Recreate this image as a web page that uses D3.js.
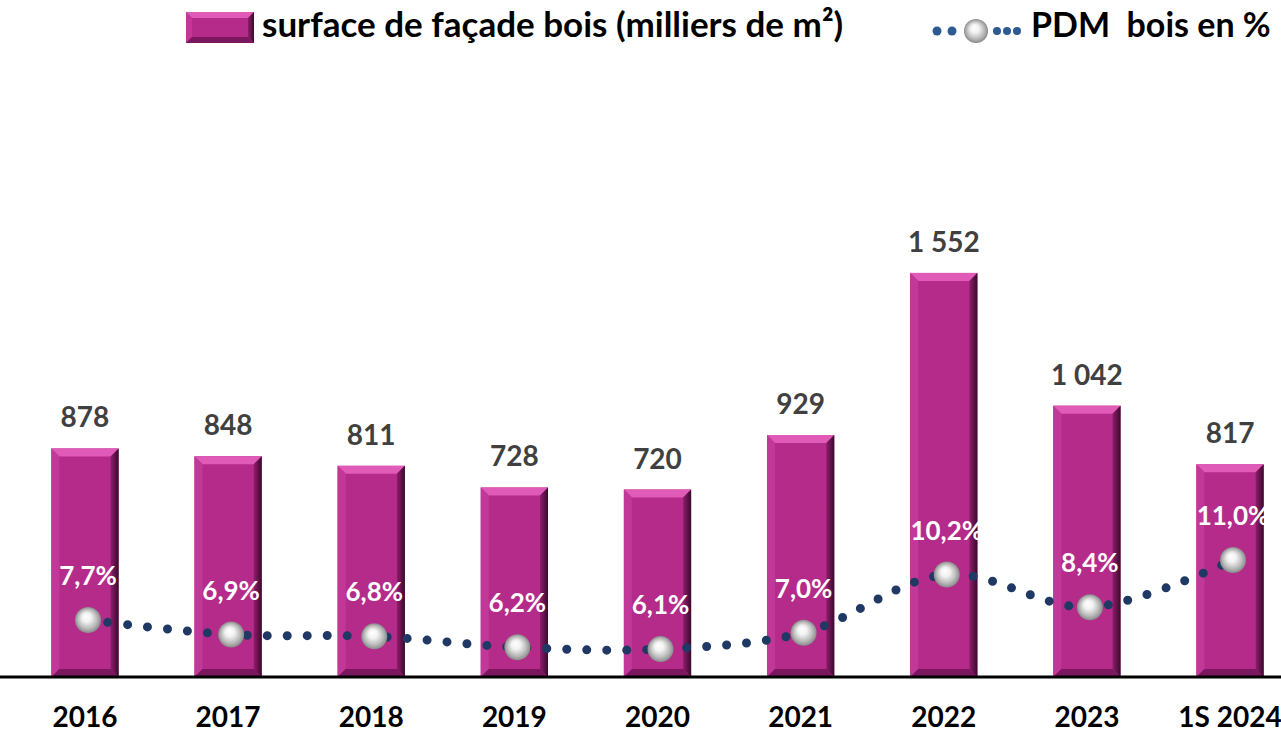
<!DOCTYPE html>
<html>
<head>
<meta charset="utf-8">
<script src="https://cdn.jsdelivr.net/npm/d3@7"></script>
<style>
  body { margin: 0; background: #fff; }
  svg text { font-family: Lato, "Open Sans", sans-serif; font-weight: bold; }
</style>
</head>
<body>
<div id="chart"></div>
<script>
// data
var years = ["2016", "2017", "2018", "2019", "2020", "2021", "2022", "2023", "1S 2024"];
var surface = [878, 848, 811, 728, 720, 929, 1552, 1042, 817];
var pdm = [7.7, 6.9, 6.8, 6.2, 6.1, 7.0, 10.2, 8.4, 11.0];
var legend_labels = ["surface de façade bois (milliers de m²)", "PDM  bois en %"];

var width = 1281, height = 732, base_y = 677;

var fr = d3.formatLocale({decimal: ",", thousands: " ", grouping: [3], currency: ["", " €"]});
var fmt_int = fr.format(",d"),
	fmt_pct = function(v) { return fr.format(".1f")(v) + "%"; };

var svg = d3.select("#chart").append("svg")
		.attr("width", width)
		.attr("height", height);

var defs = svg.append("defs");

var sphere = defs.append("radialGradient")
		.attr("id", "sphere")
		.attr("cx", "50%").attr("cy", "50%").attr("r", "50%")
		.attr("fx", "42%").attr("fy", "35%");
sphere.append("stop").attr("offset", "0%").attr("stop-color", "#ffffff");
sphere.append("stop").attr("offset", "35%").attr("stop-color", "#f2f2f2");
sphere.append("stop").attr("offset", "75%").attr("stop-color", "#b8b8b8");
sphere.append("stop").attr("offset", "100%").attr("stop-color", "#8a8a8a");

var right_grad = defs.append("linearGradient")
		.attr("id", "bevel-right")
		.attr("x1", "0").attr("x2", "1").attr("y1", "0").attr("y2", "0");
right_grad.append("stop").attr("offset", "0%").attr("stop-color", "#8e1d6c");
right_grad.append("stop").attr("offset", "100%").attr("stop-color", "#3a0a2c");

// scales
var xScale = d3.scaleBand()
		.domain(years)
		.range([13.4, 1301.6])
		.paddingInner(0.53)
		.paddingOuter(0.265);

var xLine = d3.scalePoint()
		.domain(years)
		.range([88, 1233]);

var yScale = d3.scaleLinear()
		.domain([0, 2600])
		.range([base_y, 0]);

var y2Scale = d3.scaleLinear()
		.domain([0, 11])
		.range([760, 560]);

// beveled bar, like the excel "cool slant" shape
function bevel(g, x, y, w, h, b) {
	b = Math.min(b, h / 2);
	g.append("rect").attr("x", x).attr("y", y).attr("width", w).attr("height", h).attr("fill", "#b52b8a");
	g.append("polygon").attr("fill", "#e05ab8")
		.attr("points", [[x, y], [x + w, y], [x + w - b, y + b], [x + b, y + b]].join(" "));
	g.append("polygon").attr("fill", "#c23898")
		.attr("points", [[x, y], [x + b, y + b], [x + b, y + h - b], [x, y + h]].join(" "));
	g.append("polygon").attr("fill", "url(#bevel-right)")
		.attr("points", [[x + w, y], [x + w, y + h], [x + w - b, y + h - b], [x + w - b, y + b]].join(" "));
	g.append("polygon").attr("fill", "#7a175e")
		.attr("points", [[x, y + h], [x + b, y + h - b], [x + w - b, y + h - b], [x + w, y + h]].join(" "));
}

var bars = svg.append("g").attr("class", "bars");
years.forEach(function(yr, i) {
	var g = bars.append("g");
	bevel(g, xScale(yr), yScale(surface[i]), xScale.bandwidth(), base_y - yScale(surface[i]), 8);
});

// value labels
svg.append("g").selectAll("text")
		.data(years)
	.enter().append("text")
		.attr("x", function(d) { return xScale(d) + xScale.bandwidth() / 2; })
		.attr("y", function(d, i) { return yScale(surface[i]) - 21; })
		.attr("text-anchor", "middle")
		.style("font-size", "28px")
		.style("fill", "#404040")
		.text(function(d, i) { return fmt_int(surface[i]); });

// x axis
var xAxis = d3.axisBottom(xScale).tickSize(0).tickPadding(30);
var axis_g = svg.append("g")
		.attr("transform", "translate(0," + base_y + ")")
		.call(xAxis);
axis_g.select(".domain").remove();
axis_g.selectAll("text")
		.style("font-size", "28px")
		.style("font-family", "Lato, sans-serif")
		.style("font-weight", "bold")
		.style("fill", "#000");

svg.append("line")
		.attr("x1", 0)
		.attr("x2", width)
		.attr("y1", base_y)
		.attr("y2", base_y)
		.style("stroke", "#000")
		.style("stroke-width", 3);

// pdm line
var line = d3.line()
		.x(function(d, i) { return xLine(years[i]); })
		.y(function(d) { return y2Scale(d); })
		.curve(d3.curveCatmullRom.alpha(0.5));

svg.append("path")
		.datum(pdm)
		.attr("d", line)
		.style("fill", "none")
		.style("stroke", "#1f3864")
		.style("stroke-width", 9)
		.style("stroke-linecap", "round")
		.style("stroke-dasharray", "0 20");

svg.append("g").selectAll("circle")
		.data(pdm)
	.enter().append("circle")
		.attr("cx", function(d, i) { return xLine(years[i]); })
		.attr("cy", function(d) { return y2Scale(d); })
		.attr("r", 13)
		.style("fill", "url(#sphere)");

svg.append("g").selectAll("text")
		.data(pdm)
	.enter().append("text")
		.attr("x", function(d, i) { return xLine(years[i]); })
		.attr("y", function(d) { return y2Scale(d) - 35; })
		.attr("text-anchor", "middle")
		.style("font-size", "26px")
		.style("fill", "#fff")
		.text(function(d) { return fmt_pct(d); });

// legend
var legend = svg.append("g").attr("class", "legend");
bevel(legend.append("g"), 186, 12, 68, 31, 6);
legend.append("text")
		.attr("x", 262)
		.attr("y", 37)
		.style("font-size", "35px")
		.style("fill", "#000")
		.text(legend_labels[0]);

// legend sample for the dotted line: a few dots round a sphere
var legend_dots = [937, 952, 997, 1007, 1017];
legend.selectAll("circle.dot")
		.data(legend_dots)
	.enter().append("circle")
		.attr("class", "dot")
		.attr("cx", function(d) { return d; })
		.attr("cy", 31)
		.attr("r", function(d, i) { return i < 2 ? 4.5 : 4; })
		.style("fill", "#2e5a94");
legend.append("circle")
		.attr("cx", 976)
		.attr("cy", 31)
		.attr("r", 12)
		.style("fill", "url(#sphere)");
legend.append("text")
		.attr("x", 1031)
		.attr("y", 37)
		.style("font-size", "34px")
		.style("fill", "#000")
		.style("white-space", "pre")
		.text(legend_labels[1]);
</script>
</body>
</html>
